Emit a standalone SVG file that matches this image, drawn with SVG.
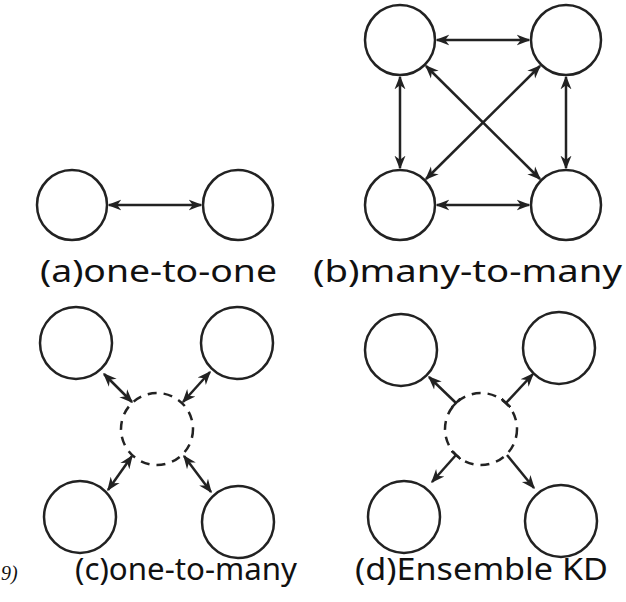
<svg xmlns="http://www.w3.org/2000/svg" width="626" height="602" viewBox="0 0 626 602">
<style>
.n{fill:#fff;stroke:#222;stroke-width:2.5}
.d{fill:none;stroke:#222;stroke-width:2.5;stroke-dasharray:9 7}
.c line{stroke:#222;stroke-width:2.5}
.t{font-family:"Noto Sans","Open Sans",sans-serif;font-size:30px;fill:#111}
</style>
<defs>
<marker id="ah" viewBox="0 0 10 10" refX="9" refY="5" markerWidth="5.5" markerHeight="5.5" orient="auto-start-reverse"><path d="M0,1 L10,5 L0,9 L3,5 Z" fill="#222"/></marker>
<marker id="tee" viewBox="0 0 4 10" refX="2" refY="5" markerWidth="2" markerHeight="5" orient="auto"><path d="M2,0 V10" stroke="#222" stroke-width="2"/></marker>
</defs>
<rect width="626" height="602" fill="#fff"/>
<g id="a">
<circle class="n" cx="72" cy="205" r="35"/><circle class="n" cx="238" cy="205" r="35"/>
<text class="t" x="40" y="282" textLength="237" lengthAdjust="spacingAndGlyphs">(a)one-to-one</text>
</g>
<g id="b">
<circle class="n" cx="400" cy="40" r="35"/><circle class="n" cx="566" cy="40" r="35"/>
<circle class="n" cx="400" cy="205" r="35"/><circle class="n" cx="566" cy="205" r="35"/>
<text class="t" x="313" y="282" textLength="309" lengthAdjust="spacingAndGlyphs">(b)many-to-many</text>
</g>
<g id="c">
<circle class="n" cx="76" cy="343" r="36"/><circle class="n" cx="237" cy="343" r="36"/>
<circle class="n" cx="80" cy="517" r="36"/><circle class="n" cx="238" cy="522" r="36"/>
<circle class="d" cx="157" cy="429" r="36"/>
<text class="t" x="75" y="580" textLength="222" lengthAdjust="spacingAndGlyphs">(c)one-to-many</text>
<text x="1" y="580" font-family="Liberation Serif,serif" font-style="italic" font-size="20" fill="#111">9)</text>
</g>
<g id="d">
<circle class="n" cx="401" cy="350" r="36"/><circle class="n" cx="559" cy="348" r="36"/>
<circle class="n" cx="404" cy="517" r="36"/><circle class="n" cx="561" cy="521" r="36"/>
<circle class="d" cx="481" cy="429" r="36"/>
<text class="t" x="355" y="580" textLength="253" lengthAdjust="spacingAndGlyphs">(d)Ensemble KD</text>
</g>
<g class="c" id="connectors">
<line x1="109" y1="205" x2="201" y2="205" marker-start="url(#ah)" marker-end="url(#ah)"/>
<line x1="437" y1="40" x2="529" y2="40" marker-start="url(#ah)" marker-end="url(#ah)"/>
<line x1="437" y1="205" x2="529" y2="205" marker-start="url(#ah)" marker-end="url(#ah)"/>
<line x1="400" y1="77" x2="400" y2="168" marker-start="url(#ah)" marker-end="url(#ah)"/>
<line x1="566" y1="77" x2="566" y2="168" marker-start="url(#ah)" marker-end="url(#ah)"/>
<line x1="426" y1="66" x2="540" y2="179" marker-start="url(#ah)" marker-end="url(#ah)"/>
<line x1="540" y1="66" x2="426" y2="179" marker-start="url(#ah)" marker-end="url(#ah)"/>
<line x1="104" y1="374" x2="132" y2="402" marker-start="url(#ah)" marker-end="url(#ah)"/>
<line x1="210" y1="372" x2="183" y2="402" marker-start="url(#ah)" marker-end="url(#ah)"/>
<line x1="108" y1="490" x2="132" y2="456" marker-start="url(#ah)" marker-end="url(#ah)"/>
<line x1="211" y1="492" x2="184" y2="456" marker-start="url(#ah)" marker-end="url(#ah)"/>
<line x1="456" y1="403" x2="429" y2="377" marker-start="url(#tee)" marker-end="url(#ah)"/>
<line x1="506" y1="403" x2="533" y2="374" marker-start="url(#tee)" marker-end="url(#ah)"/>
<line x1="456" y1="455" x2="432" y2="482" marker-start="url(#tee)" marker-end="url(#ah)"/>
<line x1="507" y1="455" x2="534" y2="488" marker-end="url(#ah)"/>
</g>
</svg>
